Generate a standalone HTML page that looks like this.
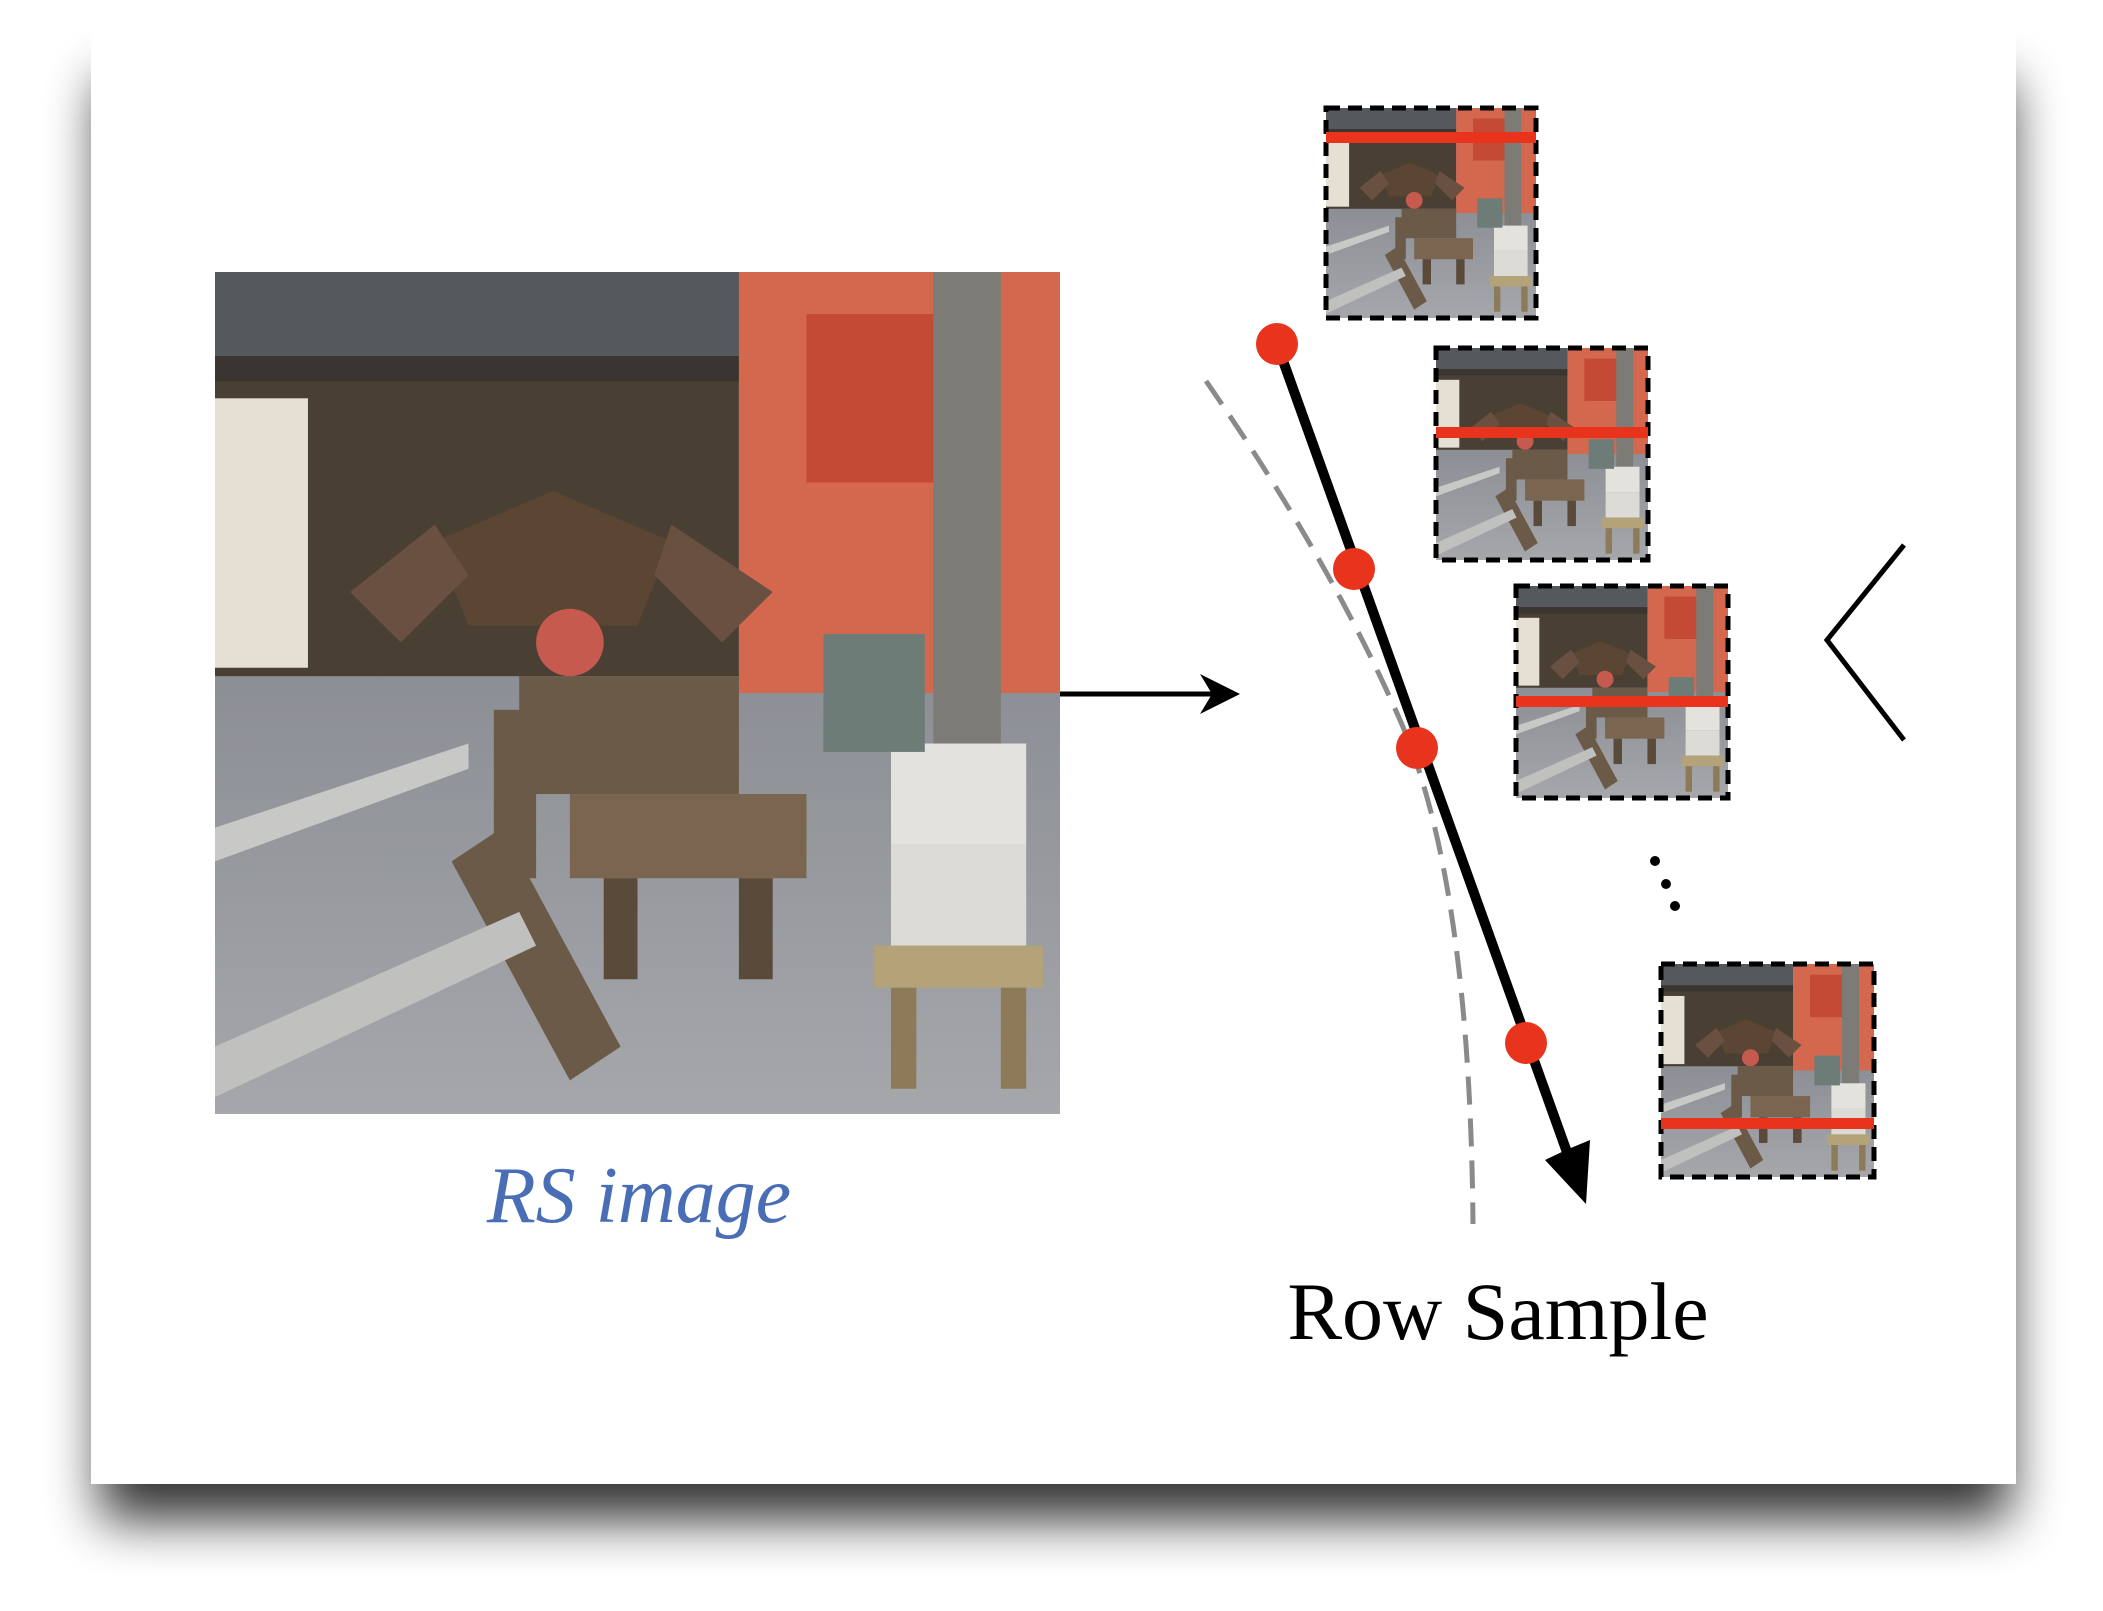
<!DOCTYPE html>
<html><head><meta charset="utf-8"><style>
html,body{margin:0;padding:0;background:#fff;}
body{width:2103px;height:1611px;position:relative;overflow:hidden;}
</style></head><body>
<svg width="2103" height="1611" viewBox="0 0 2103 1611" xmlns="http://www.w3.org/2000/svg" style="position:absolute;left:0;top:0">
<defs>
<filter id="sh" x="-10%" y="-10%" width="120%" height="130%"><feGaussianBlur stdDeviation="26"/></filter>
<linearGradient id="road" x1="0" y1="0" x2="0" y2="1"><stop offset="0" stop-color="#8a8d93"/><stop offset="1" stop-color="#a5a7ab"/></linearGradient>
<symbol id="scene" viewBox="0 0 100 100" preserveAspectRatio="none">
<rect width="100" height="100" fill="#9a9ca0"/>
<rect x="0" y="45" width="100" height="55" fill="url(#road)"/>
<rect x="0" y="0" width="62" height="48" fill="#4a3f33"/>
<rect x="0" y="0" width="62" height="10" fill="#55585c"/>
<rect x="0" y="10" width="62" height="3" fill="#3a3530"/>
<rect x="0" y="15" width="11" height="32" fill="#e6e0d2"/>
<rect x="62" y="0" width="38" height="50" fill="#d4684e"/>
<rect x="70" y="5" width="20" height="20" fill="#c44a35"/>
<rect x="85" y="0" width="8" height="60" fill="#7c7b76"/>
<polygon points="26,32 40,26 54,32 50,42 30,42" fill="#5a4632"/>
<polygon points="26,30 16,38 22,44 30,36" fill="#6a5040"/>
<polygon points="54,30 66,38 60,44 52,36" fill="#6a5040"/>
<circle cx="42" cy="44" r="4" fill="#c65a4e"/>
<rect x="36" y="48" width="26" height="14" fill="#6b5a48"/>
<rect x="42" y="62" width="28" height="10" fill="#7a6650"/>
<rect x="46" y="72" width="4" height="12" fill="#5a4a3a"/>
<rect x="62" y="72" width="4" height="12" fill="#5a4a3a"/>
<polygon points="28,70 34,66 48,92 42,96" fill="#6b5a48"/>
<rect x="33" y="52" width="5" height="20" fill="#6b5a48"/>
<rect x="80" y="56" width="16" height="12" fill="#e4e2dc"/>
<rect x="80" y="68" width="16" height="12" fill="#dddbd5"/>
<rect x="78" y="80" width="20" height="5" fill="#b4a278"/>
<rect x="80" y="85" width="3" height="12" fill="#8c7a58"/>
<rect x="93" y="85" width="3" height="12" fill="#8c7a58"/>
<polygon points="0,66 30,56 30,59 0,70" fill="#c8c8c6"/>
<polygon points="0,92 36,76 38,80 0,98" fill="#c0c0be"/>
<rect x="72" y="43" width="12" height="14" fill="#6e7c78"/>
</symbol>
</defs>
<rect x="100" y="80" width="1910" height="1440" fill="#000" opacity="0.8" filter="url(#sh)"/>
<rect x="91" y="20" width="1925" height="1464" fill="#fff"/>
<use href="#scene" x="215" y="272" width="845" height="842"/>
<text x="639" y="1222" text-anchor="middle" font-family="Liberation Serif, serif" font-style="italic" font-size="80" fill="#4a6eb5">RS image</text>
<line x1="1060" y1="694" x2="1215" y2="694" stroke="#000" stroke-width="5"/>
<polygon points="1240,694 1200,674 1212,694 1200,714" fill="#000"/>
<g>
<use href="#scene" x="1326" y="108" width="210" height="210"/>
<rect x="1326" y="108" width="210" height="210" fill="none" stroke="#000" stroke-width="5" stroke-dasharray="14,8"/>
<rect x="1326" y="132" width="210" height="11" fill="#e8341c"/>
<use href="#scene" x="1436" y="348" width="212" height="212"/>
<rect x="1436" y="348" width="212" height="212" fill="none" stroke="#000" stroke-width="5" stroke-dasharray="14,8"/>
<rect x="1436" y="427" width="212" height="11" fill="#e8341c"/>
<use href="#scene" x="1516" y="586" width="212" height="212"/>
<rect x="1516" y="586" width="212" height="212" fill="none" stroke="#000" stroke-width="5" stroke-dasharray="14,8"/>
<rect x="1516" y="696" width="212" height="11" fill="#e8341c"/>
<use href="#scene" x="1661" y="964" width="213" height="213"/>
<rect x="1661" y="964" width="213" height="213" fill="none" stroke="#000" stroke-width="5" stroke-dasharray="14,8"/>
<rect x="1661" y="1118" width="213" height="11" fill="#e8341c"/>
</g>
<path d="M1206,381 Q1330,560 1400,720 Q1470,880 1473,1224" fill="none" stroke="#8a8a8a" stroke-width="5" stroke-dasharray="28,14"/>
<line x1="1277" y1="344" x2="1568" y2="1155" stroke="#000" stroke-width="10"/>
<polygon points="1586,1204 1545,1160 1566,1150 1590,1140" fill="#000"/>
<circle cx="1277" cy="344" r="21" fill="#e8341c"/>
<circle cx="1354" cy="569" r="21" fill="#e8341c"/>
<circle cx="1417" cy="748" r="21" fill="#e8341c"/>
<circle cx="1526" cy="1043" r="21" fill="#e8341c"/>
<circle cx="1655" cy="861" r="5" fill="#000"/>
<circle cx="1666" cy="884" r="5" fill="#000"/>
<circle cx="1675" cy="906" r="5" fill="#000"/>
<polyline points="1904,545 1827,640 1904,740" fill="none" stroke="#000" stroke-width="5"/>
<text x="1498" y="1339" text-anchor="middle" font-family="Liberation Serif, serif" font-size="82" fill="#000">Row Sample</text>
</svg>
</body></html>
